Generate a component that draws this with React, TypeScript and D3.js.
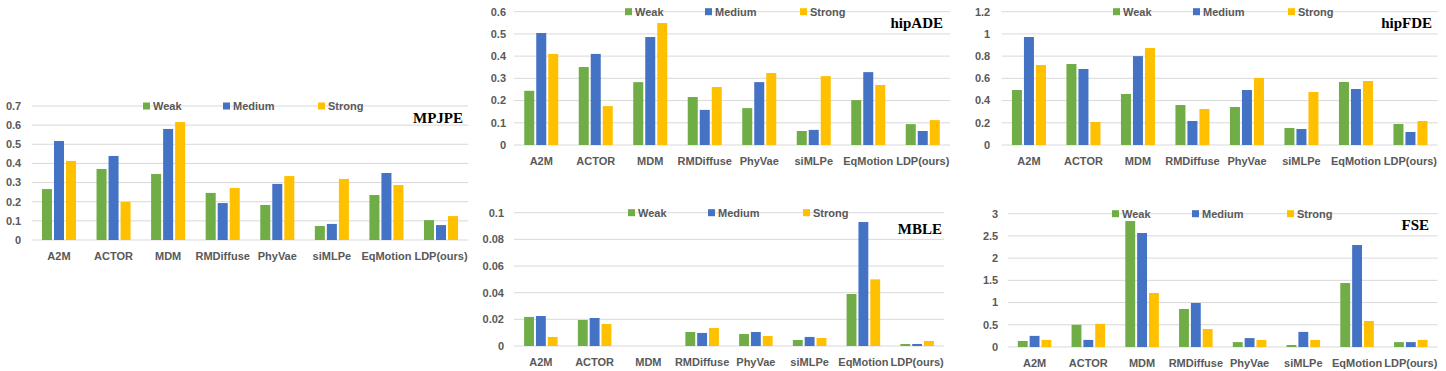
import React from 'react';
import * as d3 from 'd3';

// categories and series shared by every panel
const methods = ['A2M', 'ACTOR', 'MDM', 'RMDiffuse', 'PhyVae', 'siMLPe', 'EqMotion', 'LDP(ours)'];
const levels = ['Weak', 'Medium', 'Strong'];
const colors = ['#70ad47', '#4472c4', '#ffc000'];

// values per metric, one row per method: [Weak, Medium, Strong]
const mpjpe = [
  [0.266, 0.517, 0.413], [0.371, 0.439, 0.199], [0.345, 0.58, 0.616], [0.246, 0.193, 0.272],
  [0.183, 0.293, 0.334], [0.073, 0.084, 0.319], [0.235, 0.35, 0.287], [0.104, 0.078, 0.125],
];
const hipADE = [
  [0.244, 0.504, 0.41], [0.351, 0.41, 0.175], [0.283, 0.486, 0.549], [0.216, 0.158, 0.261],
  [0.166, 0.283, 0.324], [0.063, 0.068, 0.31], [0.202, 0.328, 0.27], [0.094, 0.063, 0.112],
];
const hipFDE = [
  [0.495, 0.972, 0.72], [0.729, 0.684, 0.207], [0.459, 0.8, 0.873], [0.36, 0.216, 0.324],
  [0.342, 0.495, 0.603], [0.153, 0.144, 0.477], [0.567, 0.504, 0.576], [0.189, 0.117, 0.216],
];
const mble = [
  [0.0218, 0.0225, 0.0068], [0.0195, 0.021, 0.0165], [0, 0, 0], [0.0105, 0.0098, 0.0135],
  [0.009, 0.0105, 0.0075], [0.0045, 0.0068, 0.006], [0.039, 0.093, 0.05], [0.0015, 0.0015, 0.0038],
];
const fse = [
  [0.135, 0.25, 0.16], [0.5, 0.16, 0.52], [2.835, 2.565, 1.215], [0.855, 0.99, 0.405],
  [0.11, 0.2, 0.16], [0.045, 0.34, 0.16], [1.44, 2.295, 0.585], [0.11, 0.11, 0.16],
];

// axis maxima and tick steps
const yMax = { mpjpe: 0.7, hipADE: 0.6, hipFDE: 1.2, mble: 0.1, fse: 3 };
const yStep = { mpjpe: 0.1, hipADE: 0.1, hipFDE: 0.2, mble: 0.02, fse: 0.5 };

const panels = [
  { title: 'MPJPE', data: mpjpe, max: yMax.mpjpe, step: yStep.mpjpe, left: 31.7, right: 468.3, top: 106, bottom: 240, legendX: 143, titleX: 463, titleY: 123, tickGap: 10.5 },
  { title: 'hipADE', data: hipADE, max: yMax.hipADE, step: yStep.hipADE, left: 514, right: 950, top: 11.7, bottom: 145, legendX: 625, titleX: 943, titleY: 28, tickGap: 8 },
  { title: 'hipFDE', data: hipFDE, max: yMax.hipFDE, step: yStep.hipFDE, left: 1001.7, right: 1437.7, top: 11.7, bottom: 145, legendX: 1113, titleX: 1432, titleY: 28, tickGap: 11.5 },
  { title: 'MBLE', data: mble, max: yMax.mble, step: yStep.mble, left: 514, right: 944, top: 212.7, bottom: 346, legendX: 628, titleX: 942, titleY: 234, tickGap: 10 },
  { title: 'FSE', data: fse, max: yMax.fse, step: yStep.fse, left: 1007.7, right: 1437.7, top: 213.7, bottom: 347, legendX: 1112, titleX: 1429, titleY: 230, tickGap: 9.5 },
];

const legendOffsets = [0, 80, 175];
const labelFont = '"Liberation Sans", Arial, sans-serif';

function Panel({ p }: { p: any }) {
  const x0 = d3.scaleBand<string>().domain(methods).range([p.left, p.right]).paddingInner(0).paddingOuter(0);
  const groupW = x0.bandwidth() * 0.624;
  const x1 = d3.scaleBand<string>().domain(levels).range([0, groupW]).paddingInner(0.1667).paddingOuter(0);
  const y = d3.scaleLinear().domain([0, p.max]).range([p.bottom, p.top]);
  const n = Math.round(p.max / p.step);
  const ticks = d3.ticks(0, p.max, n);

  return (
    <g>
      {ticks.map(t => (
        <g key={t}>
          <line x1={p.left} x2={p.right} y1={y(t)} y2={y(t)} stroke="#d9d9d9" strokeWidth={1} />
          <text x={p.left - p.tickGap} y={y(t)} dy="0.35em" textAnchor="end" fontSize={11} fontWeight="bold" fill="#595959" fontFamily={labelFont}>{String(t)}</text>
        </g>
      ))}
      {methods.map((m, i) => {
        const gx = (x0(m) as number) + (x0.bandwidth() - groupW) / 2;
        return (
          <g key={m}>
            {levels.map((l, j) => {
              const v = p.data[i][j];
              return <rect key={l} x={gx + (x1(l) as number)} y={y(v)} width={x1.bandwidth()} height={y(0) - y(v)} fill={colors[j]} />;
            })}
            <text x={(x0(m) as number) + x0.bandwidth() / 2} y={p.bottom + 16} dy="0.35em" textAnchor="middle" fontSize={11} fontWeight="bold" fill="#595959" fontFamily={labelFont}>{m}</text>
          </g>
        );
      })}
      {levels.map((l, j) => (
        <g key={l} transform={`translate(${p.legendX + legendOffsets[j]},${p.top})`}>
          <rect x={0} y={-3.5} width={7} height={7} fill={colors[j]} />
          <text x={10} y={0} dy="0.35em" fontSize={11} fontWeight="bold" fill="#595959" fontFamily={labelFont}>{l}</text>
        </g>
      ))}
      <text x={p.titleX} y={p.titleY} textAnchor="end" fontSize={15} fontWeight="bold" fill="#000" fontFamily='"Liberation Serif", "Times New Roman", serif'>{p.title}</text>
    </g>
  );
}

export default function App() {
  return (
    <svg width={1446} height={371} style={{ position: 'absolute', left: 0, top: 0, background: '#fff' }}>
      <rect width={1446} height={371} fill="#fff" />
      {panels.map(p => <Panel key={p.title} p={p} />)}
    </svg>
  );
}
